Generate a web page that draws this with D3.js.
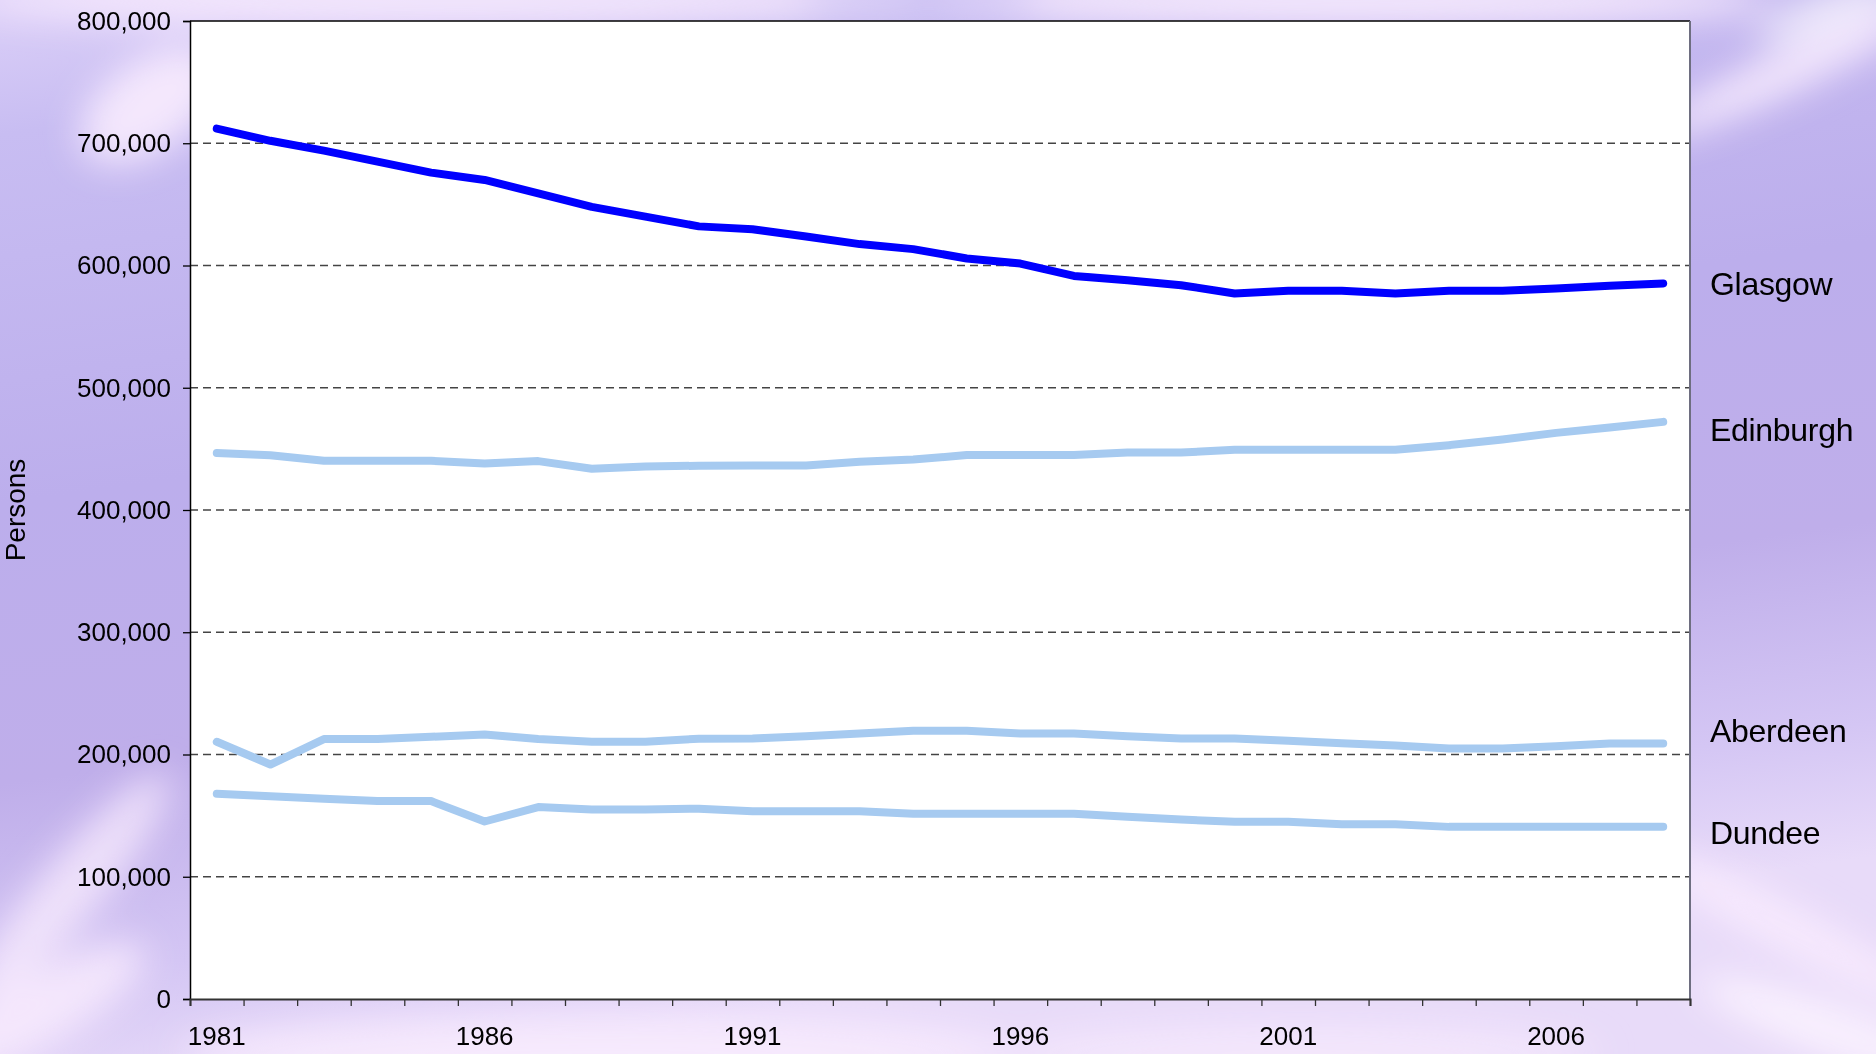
<!DOCTYPE html>
<html>
<head>
<meta charset="utf-8">
<script src="https://cdn.jsdelivr.net/npm/d3@7"></script>
<style>
  body { margin: 0; overflow: hidden; }
  svg { display: block; }
  text { font-family: "Liberation Sans", Arial, sans-serif; fill: #000; }
</style>
</head>
<body>
<div id="chart"></div>
<script>
// Population by city, 1981-2008
const years = [1981, 1982, 1983, 1984, 1985, 1986, 1987, 1988, 1989, 1990,
  1991, 1992, 1993, 1994, 1995, 1996, 1997, 1998, 1999, 2000,
  2001, 2002, 2003, 2004, 2005, 2006, 2007, 2008];

const glasgow = [712000, 702000, 694000, 685000, 676000, 670000, 659000, 648000, 640000, 632000,
  629700, 623700, 617500, 613400, 605700, 601600, 591500, 588000, 583900, 577100,
  579300, 579300, 577100, 579300, 579300, 581200, 583400, 585300];

const edinburgh = [446600, 444700, 440300, 440300, 440300, 438000, 440000, 433700, 435600, 436200,
  436400, 436400, 439400, 441300, 444900, 444900, 444900, 447000, 447000, 449200,
  449200, 449200, 449200, 453000, 457700, 463100, 467500, 472100];

const aberdeen = [210400, 191800, 212600, 212600, 214500, 216400, 212600, 210400, 210400, 212900,
  213100, 215000, 217200, 219400, 219400, 217200, 217200, 215000, 213100, 213100,
  211200, 209300, 207400, 204900, 204900, 206800, 209000, 209000];

const dundee = [167900, 165800, 163800, 161900, 161900, 145200, 157000, 155100, 155100, 155700,
  153600, 153600, 153600, 151500, 151500, 151500, 151500, 149000, 146800, 144900,
  144900, 143000, 143000, 140800, 140800, 140800, 140800, 140800];

const seriesNames = ["Glasgow", "Edinburgh", "Aberdeen", "Dundee"];
const yTicks = [0, 100000, 200000, 300000, 400000, 500000, 600000, 700000, 800000];
const xLabels = [1981, 1986, 1991, 1996, 2001, 2006];

const width = 1876, height = 1054;
const plot = { left: 190, right: 1690, top: 21, bottom: 999 };

const svg = d3.select('#chart').append('svg')
  .attr('width', width)
  .attr('height', height);

// Background: lavender with soft light streaks
const defs = svg.append('defs');
const bg = defs.append('linearGradient').attr('id', 'bg')
  .attr('x1', 0).attr('y1', 0).attr('x2', 0.25).attr('y2', 1);
[[0, '#dcd0f8'], [0.12, '#c8bdf2'], [0.45, '#bcaeec'], [0.7, '#bfaeea'], [0.88, '#d4c6f4'], [1, '#e8dbf9']]
  .forEach(s => bg.append('stop').attr('offset', s[0]).attr('stop-color', s[1]));

defs.append('filter').attr('id', 'blur')
  .attr('x', '-50%').attr('y', '-50%').attr('width', '200%').attr('height', '200%')
  .append('feGaussianBlur').attr('stdDeviation', 18);

svg.append('rect').attr('width', width).attr('height', height).attr('fill', 'url(#bg)');

const glows = svg.append('g').attr('filter', 'url(#blur)');
const glow = (cx, cy, rx, ry, rot, op, col) => glows.append('ellipse')
  .attr('cx', cx).attr('cy', cy).attr('rx', rx).attr('ry', ry)
  .attr('transform', `rotate(${rot},${cx},${cy})`)
  .attr('fill', col || '#fbeefe').attr('opacity', op);

glow(150, 105, 80, 45, -35, 0.85);
glow(450, 0, 480, 28, 0, 0.8);
glow(1350, 0, 420, 28, 0, 0.85);
glow(920, 0, 120, 20, 0, 0.5, '#cfc6f6');
glow(1790, 70, 150, 20, -25, 0.9);
glow(1830, 10, 80, 15, -20, 0.8, '#ffffff');
glow(1790, 930, 170, 22, 28, 0.8);
glow(1830, 1030, 140, 25, 20, 0.85, '#fdf4ff');
glow(70, 890, 150, 30, -50, 0.75);
glow(40, 1010, 120, 35, -30, 0.8);
glow(600, 1054, 420, 40, 0, 0.75);
glow(1300, 1054, 300, 30, 0, 0.6);

// Scales
const x = d3.scaleBand().domain(years).range([plot.left, plot.right]);
const xEdge = d3.scaleLinear().domain([0, years.length]).range([plot.left, plot.right]);
const y = d3.scaleLinear().domain([0, 800000]).range([plot.bottom, plot.top]);
const px = d => x(d) + x.bandwidth() / 2;

// Plot area
svg.append('rect')
  .attr('x', plot.left).attr('y', plot.top)
  .attr('width', plot.right - plot.left).attr('height', plot.bottom - plot.top)
  .attr('fill', '#fff');

// Grid lines
svg.append('g').selectAll('line')
  .data(yTicks.filter(d => d > 0 && d < 800000))
  .enter().append('line')
  .attr('x1', plot.left).attr('x2', plot.right)
  .attr('y1', d => y(d)).attr('y2', d => y(d))
  .attr('stroke', '#444').attr('stroke-width', 1.3)
  .attr('stroke-dasharray', '8,5');

// Frame: top and right
svg.append('line').attr('x1', plot.left).attr('x2', plot.right)
  .attr('y1', plot.top).attr('y2', plot.top)
  .attr('stroke', '#000').attr('stroke-width', 1.5);
svg.append('line').attr('x1', plot.right).attr('x2', plot.right)
  .attr('y1', plot.top).attr('y2', plot.bottom)
  .attr('stroke', '#6e6e80').attr('stroke-width', 2);

// Y axis
const yAxis = svg.append('g')
  .attr('transform', `translate(${plot.left},0)`)
  .call(d3.axisLeft(y).tickValues(yTicks).tickFormat(d3.format(',')).tickSize(7).tickPadding(12));
yAxis.select('.domain').attr('stroke', '#000').attr('stroke-width', 1.5);
yAxis.selectAll('.tick line').attr('stroke', '#000').attr('stroke-width', 1.3);
yAxis.selectAll('text').style('font-size', '26px').style('font-family', '"Liberation Sans", Arial, sans-serif').attr('fill', '#000');

// X axis: ticks on category boundaries, labels every five years
const xTicks = svg.append('g')
  .attr('transform', `translate(0,${plot.bottom})`)
  .call(d3.axisBottom(xEdge).tickValues(d3.range(0, years.length + 1)).tickSize(7).tickFormat(''));
xTicks.select('.domain').attr('stroke', '#333').attr('stroke-width', 2);
xTicks.selectAll('.tick line').attr('stroke', '#333').attr('stroke-width', 1.3);

const xAxis = svg.append('g')
  .attr('transform', `translate(0,${plot.bottom})`)
  .call(d3.axisBottom(x).tickValues(xLabels).tickSize(0).tickPadding(28));
xAxis.select('.domain').remove();
xAxis.selectAll('text').style('font-size', '26px').style('font-family', '"Liberation Sans", Arial, sans-serif').attr('fill', '#000');

// Y axis title
svg.append('text')
  .attr('transform', 'translate(25,510) rotate(-90)')
  .attr('text-anchor', 'middle')
  .style('font-size', '28px')
  .text('Persons');

// Lines
const line = d3.line()
  .x((d, i) => px(years[i]))
  .y(d => y(d));

const series = [
  { name: seriesNames[1], values: edinburgh, color: '#a6caf0', dy: 19 },
  { name: seriesNames[2], values: aberdeen, color: '#a6caf0', dy: -1 },
  { name: seriesNames[3], values: dundee, color: '#a6caf0', dy: 17 },
  { name: seriesNames[0], values: glasgow, color: '#0000ff', dy: 12 }
];

svg.append('g').selectAll('path')
  .data(series)
  .enter().append('path')
  .attr('d', d => line(d.values))
  .attr('fill', 'none')
  .attr('stroke', d => d.color)
  .attr('stroke-width', 8)
  .attr('stroke-linecap', 'round')
  .attr('stroke-linejoin', 'round');

// Series labels
svg.append('g').selectAll('text')
  .data(series)
  .enter().append('text')
  .attr('x', plot.right + 20)
  .attr('y', d => y(d.values[d.values.length - 1]) + d.dy)
  .style('font-size', '32px')
  .style('letter-spacing', '-0.3px')
  .text(d => d.name);
</script>
</body>
</html>
